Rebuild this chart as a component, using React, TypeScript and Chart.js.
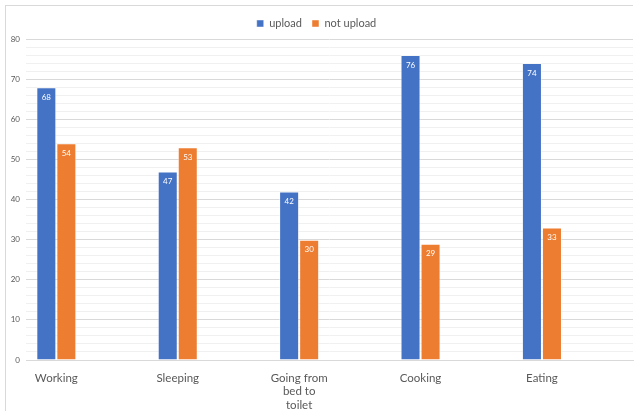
import React, { useEffect, useRef } from "react";
import { Chart, registerables } from "chart.js";

Chart.register(...registerables);

// Activities on the x axis (multi-line label kept as an array of lines)
const categories: (string | string[])[] = [
  "Working",
  "Sleeping",
  ["Going from", "bed to", "toilet"],
  "Cooking",
  "Eating",
];
const uploadValues = [68, 47, 42, 76, 74];
const notUploadValues = [54, 53, 30, 29, 33];
const seriesNames = ["upload", "not upload"];
const yTicks = [0, 10, 20, 30, 40, 50, 60, 70, 80];

const BLUE = "#4472C4";
const ORANGE = "#ED7D31";
const TEXT = "#595959";
const FONT = "Lato, 'Open Sans', sans-serif";

// Each activity is followed by an empty slot so the bar pairs sit on the left half of every band
const withSpacers = <T,>(arr: T[], filler: T): T[] => arr.flatMap((v) => [v, filler]);

const valueLabels = {
  id: "valueLabels",
  afterDatasetsDraw(chart: any) {
    const { ctx } = chart;
    ctx.save();
    ctx.font = `8px ${FONT}`;
    ctx.fillStyle = "#ffffff";
    ctx.textAlign = "center";
    ctx.textBaseline = "middle";
    chart.data.datasets.forEach((ds: any, di: number) => {
      const meta = chart.getDatasetMeta(di);
      meta.data.forEach((bar: any, i: number) => {
        const v = ds.data[i];
        if (v === null || v === undefined) return;
        ctx.fillText(String(v), bar.x, bar.y + 10);
      });
    });
    ctx.restore();
  },
};

export default function App() {
  const ref = useRef<HTMLCanvasElement>(null);

  useEffect(() => {
    if (!ref.current) return;
    const chart = new Chart(ref.current, {
      type: "bar",
      data: {
        labels: withSpacers<string | string[]>(categories, ""),
        datasets: [
          {
            label: seriesNames[0],
            data: withSpacers<number | null>(uploadValues, null),
            backgroundColor: BLUE,
            borderColor: "rgba(255,255,255,0.45)",
            borderWidth: 1,
          },
          {
            label: seriesNames[1],
            data: withSpacers<number | null>(notUploadValues, null),
            backgroundColor: ORANGE,
            borderColor: "rgba(255,255,255,0.45)",
            borderWidth: 1,
          },
        ],
      },
      options: {
        animation: false,
        responsive: false,
        maintainAspectRatio: false,
        layout: { padding: { top: 8, right: 4, left: 0, bottom: 0 } },
        datasets: {
          bar: { categoryPercentage: 0.66, barPercentage: 1, skipNull: false },
        },
        plugins: {
          legend: {
            position: "top",
            labels: {
              boxWidth: 7,
              boxHeight: 7,
              padding: 10,
              color: TEXT,
              font: { family: FONT, size: 11 },
            },
          },
          tooltip: { enabled: false },
        },
        scales: {
          x: {
            grid: { display: false },
            border: { color: "#d9d9d9" },
            ticks: {
              autoSkip: false,
              maxRotation: 0,
              minRotation: 0,
              color: TEXT,
              padding: 3,
              font: { family: FONT, size: 11.5, lineHeight: 1.2 },
            },
            afterFit: (s: any) => {
              s.height = 51;
            },
          },
          y: {
            min: 0,
            max: 80,
            ticks: {
              stepSize: 2,
              autoSkip: false,
              color: TEXT,
              padding: 6,
              font: { family: FONT, size: 8 },
              callback: (v: any) => (yTicks.includes(Number(v)) ? String(v) : ""),
            },
            grid: {
              drawTicks: false,
              color: (c: any) => (c.tick && c.tick.value % 10 === 0 ? "#d9d9d9" : "#f0f0f0"),
            },
            border: { display: false },
            afterFit: (s: any) => {
              s.width = 26;
            },
          },
        },
      },
      plugins: [valueLabels],
    });
    return () => chart.destroy();
  }, []);

  return (
    <div
      style={{
        position: "fixed",
        left: 0,
        top: 0,
        width: 637,
        height: 411,
        background: "#ffffff",
      }}
    >
      <div
        style={{
          position: "absolute",
          left: 5,
          top: 5,
          width: 627,
          height: 420,
          borderTop: "1px solid #d9d9d9",
          borderLeft: "1px solid #d9d9d9",
        }}
      />
      <canvas ref={ref} width={637} height={411} style={{ position: "absolute", left: 0, top: 0 }} />
    </div>
  );
}
